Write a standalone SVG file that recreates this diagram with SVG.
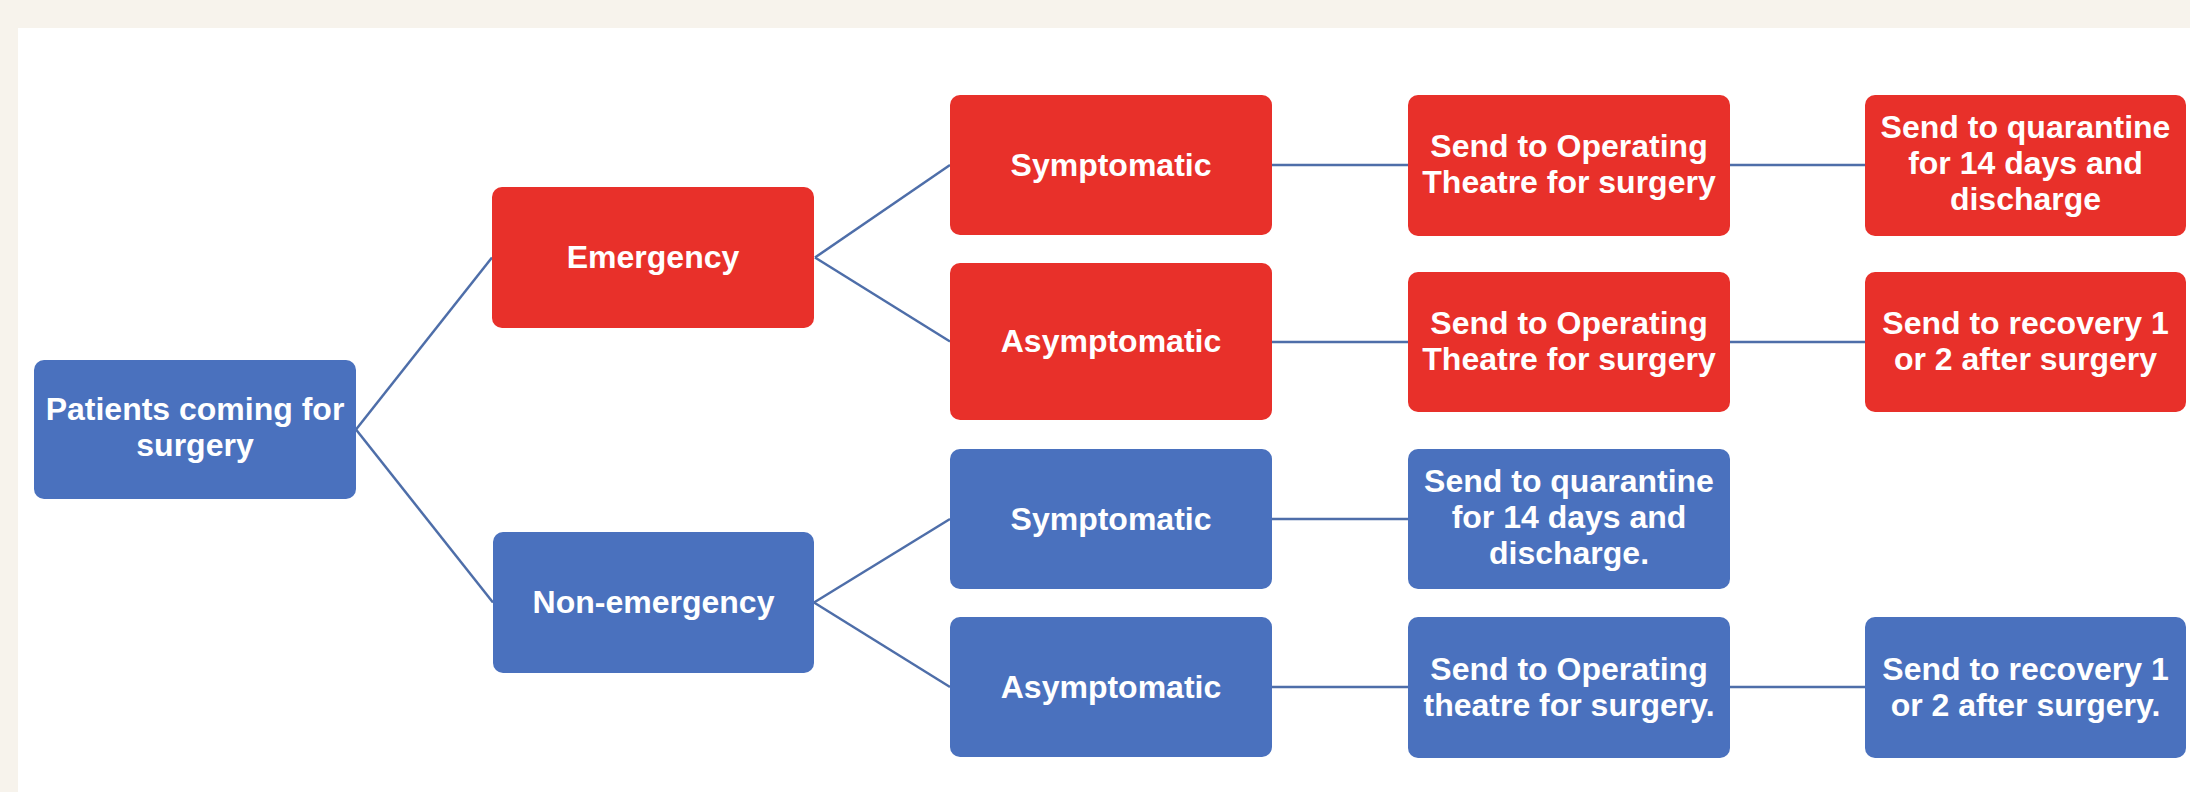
<svg xmlns="http://www.w3.org/2000/svg" width="2190" height="792" viewBox="0 0 2190 792">
<style>
.red{fill:#E8302A}
.blue{fill:#4A71BE}
.lbl{font-family:"Liberation Sans",Arial,sans-serif;font-weight:bold;font-size:32px;fill:#FFFFFF;text-anchor:middle}
.con line{stroke:#4E6EA9;stroke-width:2.5;fill:none}
</style>
<rect x="0" y="0" width="2190" height="792" fill="#F7F3EC"/>
<rect x="18" y="28" width="2172" height="764" fill="#FFFFFF"/>
<g id="connectors" class="con">
<line x1="356" y1="429.5" x2="492" y2="257.5"/>
<line x1="356" y1="429.5" x2="493" y2="602.5"/>
<line x1="815" y1="257.5" x2="950" y2="165"/>
<line x1="815" y1="257.5" x2="950" y2="341.5"/>
<line x1="814" y1="602.5" x2="950" y2="519"/>
<line x1="814" y1="602.5" x2="950" y2="687"/>
<line x1="1272" y1="165" x2="1408" y2="165"/>
<line x1="1272" y1="342" x2="1408" y2="342"/>
<line x1="1272" y1="519" x2="1408" y2="519"/>
<line x1="1272" y1="687" x2="1408" y2="687"/>
<line x1="1730" y1="165" x2="1865" y2="165"/>
<line x1="1730" y1="342" x2="1865" y2="342"/>
<line x1="1730" y1="687" x2="1865" y2="687"/>
</g>
<g id="patients">
<rect class="blue" x="34" y="360" width="322" height="139" rx="10"/>
<text class="lbl" x="195" y="420">Patients coming for</text>
<text class="lbl" x="195" y="456">surgery</text>
</g>
<g id="emergency">
<rect class="red" x="492" y="187" width="322" height="141" rx="10"/>
<text class="lbl" x="653" y="268">Emergency</text>
</g>
<g id="non-emergency">
<rect class="blue" x="493" y="532" width="321" height="141" rx="10"/>
<text class="lbl" x="653.5" y="613">Non-emergency</text>
</g>
<g id="em-symptomatic">
<rect class="red" x="950" y="95" width="322" height="140" rx="10"/>
<text class="lbl" x="1111" y="176">Symptomatic</text>
</g>
<g id="em-asymptomatic">
<rect class="red" x="950" y="263" width="322" height="157" rx="10"/>
<text class="lbl" x="1111" y="352">Asymptomatic</text>
</g>
<g id="ne-symptomatic">
<rect class="blue" x="950" y="449" width="322" height="140" rx="10"/>
<text class="lbl" x="1111" y="530">Symptomatic</text>
</g>
<g id="ne-asymptomatic">
<rect class="blue" x="950" y="617" width="322" height="140" rx="10"/>
<text class="lbl" x="1111" y="698">Asymptomatic</text>
</g>
<g id="em-sym-ot">
<rect class="red" x="1408" y="95" width="322" height="141" rx="10"/>
<text class="lbl" x="1569" y="157">Send to Operating</text>
<text class="lbl" x="1569" y="193">Theatre for surgery</text>
</g>
<g id="em-asym-ot">
<rect class="red" x="1408" y="272" width="322" height="140" rx="10"/>
<text class="lbl" x="1569" y="334">Send to Operating</text>
<text class="lbl" x="1569" y="370">Theatre for surgery</text>
</g>
<g id="ne-sym-quarantine">
<rect class="blue" x="1408" y="449" width="322" height="140" rx="10"/>
<text class="lbl" x="1569" y="492">Send to quarantine</text>
<text class="lbl" x="1569" y="528">for 14 days and</text>
<text class="lbl" x="1569" y="564">discharge.</text>
</g>
<g id="ne-asym-ot">
<rect class="blue" x="1408" y="617" width="322" height="141" rx="10"/>
<text class="lbl" x="1569" y="680">Send to Operating</text>
<text class="lbl" x="1569" y="716">theatre for surgery.</text>
</g>
<g id="em-sym-quarantine">
<rect class="red" x="1865" y="95" width="321" height="141" rx="10"/>
<text class="lbl" x="2025.5" y="138">Send to quarantine</text>
<text class="lbl" x="2025.5" y="174">for 14 days and</text>
<text class="lbl" x="2025.5" y="210">discharge</text>
</g>
<g id="em-asym-recovery">
<rect class="red" x="1865" y="272" width="321" height="140" rx="10"/>
<text class="lbl" x="2025.5" y="334">Send to recovery 1</text>
<text class="lbl" x="2025.5" y="370">or 2 after surgery</text>
</g>
<g id="ne-asym-recovery">
<rect class="blue" x="1865" y="617" width="321" height="141" rx="10"/>
<text class="lbl" x="2025.5" y="680">Send to recovery 1</text>
<text class="lbl" x="2025.5" y="716">or 2 after surgery.</text>
</g>
</svg>
